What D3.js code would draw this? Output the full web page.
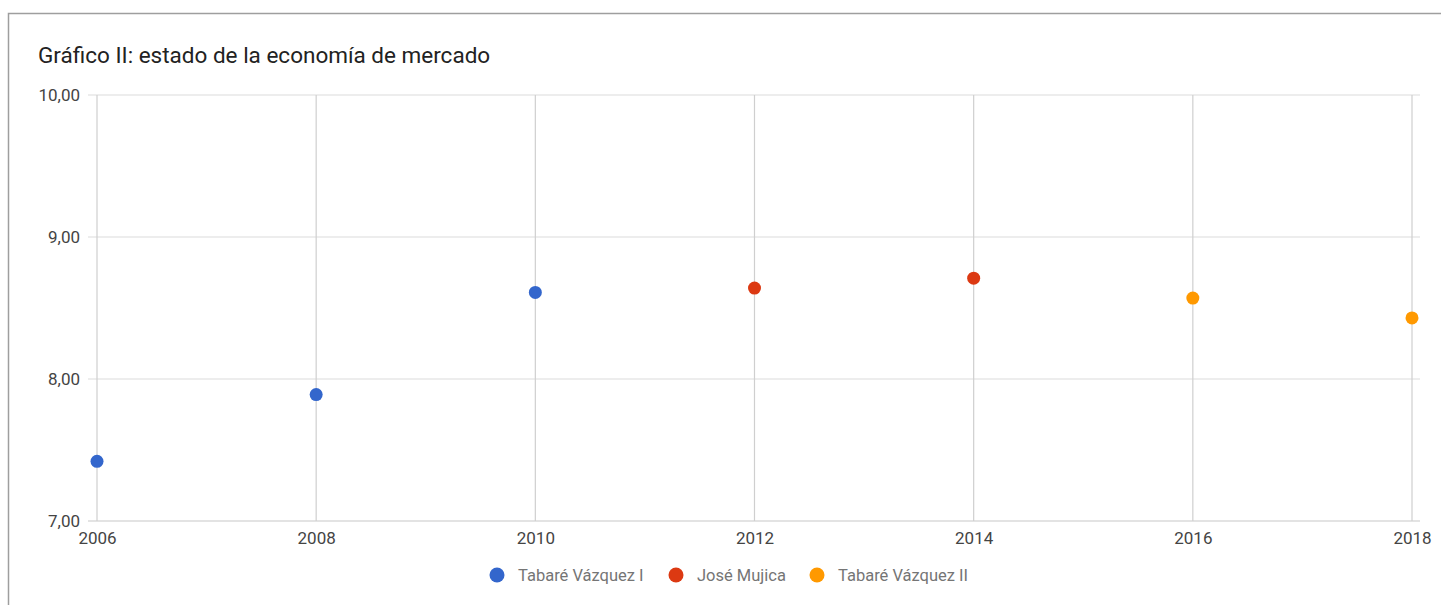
<!DOCTYPE html>
<html>
<head>
<meta charset="utf-8">
<script src="https://cdn.jsdelivr.net/npm/d3@7"></script>
<style>
  body { margin: 0; background: #fff; font-family: Roboto, sans-serif; }
</style>
</head>
<body>
<script>
const years = [2006, 2008, 2010, 2012, 2014, 2016, 2018];
const values = [7.42, 7.89, 8.61, 8.64, 8.71, 8.57, 8.43];
const periods = ["Tabaré Vázquez I", "Tabaré Vázquez I", "Tabaré Vázquez I", "José Mujica", "José Mujica", "Tabaré Vázquez II", "Tabaré Vázquez II"];
const seriesNames = ["Tabaré Vázquez I", "José Mujica", "Tabaré Vázquez II"];
const seriesColors = ["#3366cc", "#dc3912", "#ff9900"];
const yTicks = [7, 8, 9, 10];

const W = 1441, H = 605;

const svg = d3.select("body").append("svg")
    .attr("width", W)
    .attr("height", H);

// frame
svg.append("path")
    .attr("d", `M8.5,${H} V13.5 H${W}`)
    .attr("fill", "none")
    .attr("stroke", "#9e9e9e")
    .attr("stroke-width", 1.5);

svg.append("text")
    .attr("x", 38)
    .attr("y", 63)
    .attr("font-size", 22.5)
    .attr("fill", "#222")
    .text("Gráfico II: estado de la economía de mercado");

const x = d3.scaleLinear().domain([2006, 2018]).range([97, 1412]);
const y = d3.scaleLinear().domain([7, 10]).range([521, 95]);
const color = d3.scaleOrdinal().domain(seriesNames).range(seriesColors);

// horizontal grid
svg.append("g")
    .selectAll("line")
    .data(yTicks)
    .join("line")
    .attr("x1", 88).attr("x2", 1420)
    .attr("y1", d => y(d)).attr("y2", d => y(d))
    .attr("stroke", d => d === 7 ? "#c8c8c8" : "#dcdcdc")
    .attr("stroke-width", 1.2);

svg.append("g")
    .attr("transform", "translate(88,0)")
    .call(d3.axisLeft(y).tickValues(yTicks).tickSize(0).tickPadding(8)
        .tickFormat(d => d3.format(".2f")(d).replace(".", ",")))
    .call(g => g.select(".domain").remove())
    .call(g => g.selectAll("text").attr("font-size", 17).attr("fill", "#444").attr("font-family", "Roboto"));

// vertical grid + x labels
svg.append("g")
    .selectAll("line")
    .data(years)
    .join("line")
    .attr("x1", d => x(d)).attr("x2", d => x(d))
    .attr("y1", y(10)).attr("y2", y(7))
    .attr("stroke", "#cfcfcf")
    .attr("stroke-width", 1.2);

svg.append("g")
    .attr("transform", `translate(0,${y(7)})`)
    .call(d3.axisBottom(x).tickValues(years).tickSize(0).tickPadding(11).tickFormat(d3.format("d")))
    .call(g => g.select(".domain").remove())
    .call(g => g.selectAll("text").attr("font-size", 17).attr("fill", "#444").attr("font-family", "Roboto"));

// points
svg.append("g")
    .selectAll("circle")
    .data(years)
    .join("circle")
    .attr("cx", d => x(d))
    .attr("cy", (d, i) => y(values[i]))
    .attr("r", 6.5)
    .attr("fill", (d, i) => color(periods[i]));

// legend
const legendX = [497, 676, 817];
const leg = svg.append("g")
    .selectAll("g")
    .data(seriesNames)
    .join("g")
    .attr("transform", (d, i) => `translate(${legendX[i]},575)`);
leg.append("circle").attr("r", 7.5).attr("fill", d => color(d));
leg.append("text")
    .attr("x", 21)
    .attr("dy", "0.35em")
    .attr("font-size", 16.5)
    .attr("fill", "#757575")
    .text(d => d);
</script>
</body>
</html>
